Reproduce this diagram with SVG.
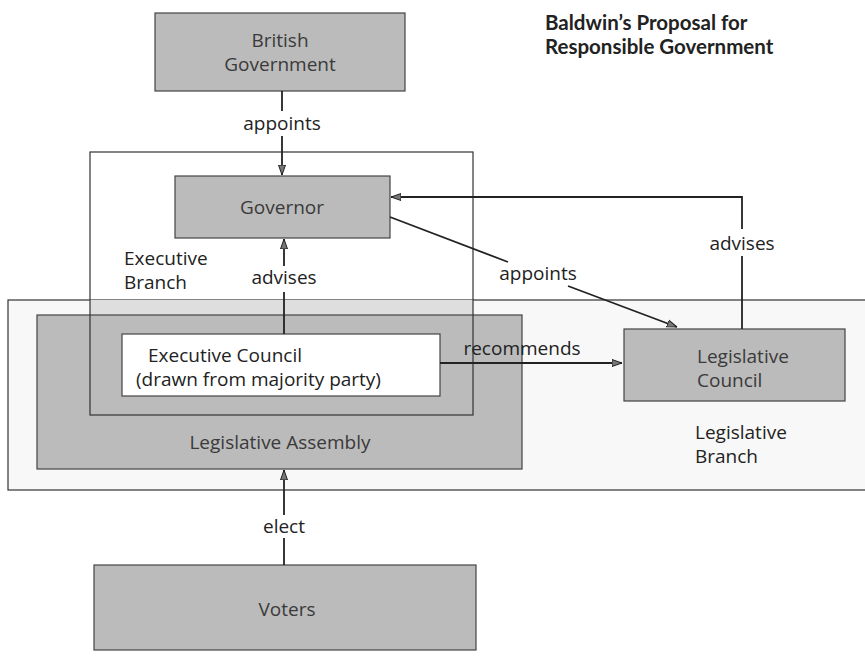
<svg xmlns="http://www.w3.org/2000/svg" width="865" height="658" viewBox="0 0 865 658">
<defs>
<marker id="ah" viewBox="0 0 10 10" refX="10" refY="5" markerWidth="10" markerHeight="10" markerUnits="userSpaceOnUse" orient="auto">
<path d="M0,1.5 L10,5 L0,8.5 z" fill="#777" stroke="#222" stroke-width="1"/>
</marker>
</defs>
<style>
.box{fill:#bbbbbb;stroke:#444;stroke-width:1.2}
.frame{fill:none;stroke:#333;stroke-width:1.2}
.t{font-family:"Open Sans","DejaVu Sans",sans-serif;font-size:19px;fill:#222}
.tg{fill:#3a3a3a}
.c{text-anchor:middle}
.ln{stroke:#222;stroke-width:1.8;fill:none}
.title{font-family:"Lato","Liberation Sans",sans-serif;font-weight:bold;font-size:20.5px;fill:#222}
</style>
<rect width="865" height="658" fill="#fff"/>

<g id="legislative-branch">
<rect x="8" y="300" width="870" height="190" fill="#f8f8f8" stroke="#333" stroke-width="1.2"/>
<rect x="90" y="300" width="383" height="15" fill="#dedede"/>
<text class="t" x="695" y="439">Legislative</text>
<text class="t" x="695" y="463">Branch</text>
</g>

<g id="legislative-assembly">
<rect class="box" x="37" y="315" width="485" height="154"/>
<text class="t tg c" x="280" y="449">Legislative Assembly</text>
</g>

<g id="executive-branch">
<rect class="frame" x="90" y="152" width="383" height="263"/>
<text class="t" x="124" y="265">Executive</text>
<text class="t" x="124" y="289">Branch</text>
</g>

<g id="british-government">
<rect class="box" x="155" y="13" width="250" height="78"/>
<text class="t tg c" x="280" y="47">British</text>
<text class="t tg c" x="280" y="71">Government</text>
</g>

<g id="title">
<text class="title" x="545" y="30">Baldwin’s Proposal for</text>
<text class="title" x="545" y="54">Responsible Government</text>
</g>

<g id="governor">
<rect class="box" x="175" y="176" width="215" height="62"/>
<text class="t tg c" x="282" y="214">Governor</text>
</g>

<g id="executive-council">
<rect x="122" y="334" width="318" height="62" fill="#fff" stroke="#444" stroke-width="1.2"/>
<text class="t" x="148" y="362">Executive Council</text>
<text class="t" x="136" y="386">(drawn from majority party)</text>
</g>

<g id="legislative-council">
<rect class="box" x="624" y="329" width="221" height="72"/>
<text class="t tg" x="697" y="363">Legislative</text>
<text class="t tg" x="697" y="387">Council</text>
</g>

<g id="voters">
<rect class="box" x="94" y="565" width="382" height="85"/>
<text class="t tg c" x="287" y="616">Voters</text>
</g>

<g id="connectors">
<line class="ln" x1="282" y1="91" x2="282" y2="111"/>
<line class="ln" x1="282" y1="136" x2="282" y2="175" marker-end="url(#ah)"/>
<text class="t c" x="282" y="130">appoints</text>

<line class="ln" x1="284" y1="334" x2="284" y2="292"/>
<line class="ln" x1="284" y1="266" x2="284" y2="239" marker-end="url(#ah)"/>
<text class="t c" x="284" y="284">advises</text>

<line class="ln" x1="390" y1="217" x2="508" y2="262"/>
<line class="ln" x1="568" y1="286" x2="677" y2="327" marker-end="url(#ah)"/>
<text class="t c" x="538" y="280">appoints</text>

<polyline class="ln" points="742,229 742,197 391,197" marker-end="url(#ah)"/>
<line class="ln" x1="742" y1="256" x2="742" y2="329"/>
<text class="t c" x="742" y="250">advises</text>

<line class="ln" x1="440" y1="363" x2="622" y2="363" marker-end="url(#ah)"/>
<text class="t c" x="522" y="355">recommends</text>

<line class="ln" x1="284" y1="565" x2="284" y2="538"/>
<line class="ln" x1="284" y1="515" x2="284" y2="470" marker-end="url(#ah)"/>
<text class="t c" x="284" y="533">elect</text>
</g>
</svg>
